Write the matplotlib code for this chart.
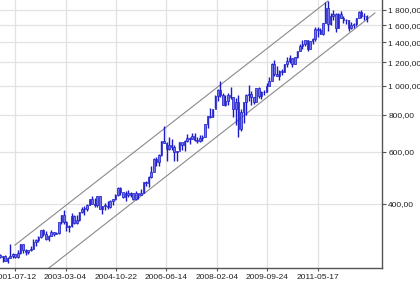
import pandas as pd
import matplotlib
matplotlib.use('Agg')
import matplotlib.pyplot as plt
import matplotlib.dates as mdates
from matplotlib.ticker import FixedLocator, FuncFormatter, NullLocator

plt.rcParams['font.family'] = ['Liberation Sans', 'DejaVu Sans']

# Monthly bars, Jan 2001 .. Dec 2012
first_open = 270
high = [272, 268, 270, 265, 293, 274, 272, 279, 294, 293, 282, 280,
        288, 304, 304, 311, 327, 330, 325, 315, 326, 323, 323, 349,
        368, 382, 352, 341, 372, 366, 368, 376, 390, 393, 399, 417,
        427, 419, 427, 427, 395, 403, 408, 412, 417, 431, 455, 456,
        431, 441, 445, 438, 437, 441, 433, 448, 475, 480, 497, 538,
        570, 575, 588, 654, 730, 646, 670, 664, 630, 605, 648, 640,
        655, 690, 675, 693, 692, 672, 683, 683, 745, 790, 845, 838,
        930, 975, 1035, 948, 930, 944, 988, 915, 910, 933, 833, 881,
        935, 1007, 962, 916, 982, 989, 960, 965, 1025, 1070, 1195, 1226,
        1162, 1127, 1139, 1180, 1249, 1265, 1245, 1250, 1310, 1387, 1424, 1431,
        1426, 1413, 1448, 1575, 1577, 1560, 1632, 1912, 1925, 1760, 1803, 1763,
        1764, 1791, 1718, 1680, 1671, 1640, 1628, 1693, 1790, 1796, 1755, 1726]
low = [263, 255, 257, 254, 263, 264, 263, 264, 271, 274, 270, 272,
       277, 282, 288, 299, 307, 312, 302, 301, 311, 311, 316, 318,
       343, 343, 325, 321, 335, 343, 342, 351, 374, 367, 380, 397,
       399, 392, 392, 384, 371, 383, 386, 387, 398, 412, 427, 430,
       420, 411, 424, 423, 414, 414, 417, 430, 434, 460, 456, 488,
       516, 538, 538, 582, 640, 560, 610, 610, 560, 560, 615, 606,
       605, 648, 637, 660, 651, 642, 646, 652, 670, 720, 780, 785,
       840, 890, 915, 861, 853, 860, 905, 786, 740, 670, 705, 750,
       800, 890, 865, 866, 880, 910, 904, 929, 950, 995, 1035, 1075,
       1075, 1045, 1088, 1110, 1158, 1190, 1155, 1180, 1242, 1314, 1328, 1360,
       1308, 1326, 1381, 1418, 1462, 1495, 1480, 1624, 1535, 1600, 1670, 1523,
       1563, 1691, 1627, 1612, 1527, 1548, 1564, 1590, 1687, 1694, 1672, 1635]
close = [265, 267, 258, 264, 267, 271, 265, 273, 293, 279, 275, 279,
         282, 297, 302, 309, 326, 318, 304, 313, 323, 317, 319, 347,
         367, 347, 334, 337, 364, 346, 354, 375, 385, 386, 397, 416,
         400, 396, 426, 386, 394, 394, 391, 408, 416, 429, 453, 438,
         422, 436, 428, 436, 417, 435, 430, 434, 473, 470, 495, 513,
         568, 556, 583, 654, 643, 613, 633, 624, 599, 604, 646, 632,
         650, 669, 663, 678, 659, 650, 665, 672, 743, 790, 783, 836,
         923, 971, 933, 865, 887, 928, 914, 833, 880, 718, 814, 882,
         928, 942, 917, 883, 980, 927, 954, 955, 1001, 1040, 1182, 1096,
         1081, 1118, 1113, 1180, 1214, 1244, 1181, 1247, 1307, 1357, 1386, 1421,
         1333, 1411, 1439, 1556, 1536, 1500, 1628, 1826, 1620, 1722, 1746, 1566,
         1740, 1697, 1669, 1664, 1561, 1598, 1614, 1687, 1774, 1719, 1713, 1675]

# trend channel end points (date, price)
upper_dates = ['2001-07-12', '2011-09-13']
upper_prices = [291, 1930]
lower_dates = ['2002-08-19', '2013-03-24']
lower_prices = [243.6, 1758]

tick_dates = ['2001-07-12', '2003-03-04', '2004-10-22', '2006-06-14',
              '2008-02-04', '2009-09-24', '2011-05-17']
y_ticks = [400, 600, 800, 1000, 1200, 1400, 1600, 1800]

dates = pd.date_range('2001-01-01', periods=len(close), freq='MS') + pd.Timedelta(days=14)
x = mdates.date2num(dates)
opens = [first_open] + close[:-1]

fig = plt.figure(figsize=(4.2, 2.83), dpi=100)
ax = fig.add_axes([0, 15 / 283, 382 / 420, 268 / 283])

ax.set_yscale('log')
ax.set_ylim(243.6, 1945)
ax.set_xlim(mdates.date2num(pd.Timestamp('2001-01-15')),
            mdates.date2num(pd.Timestamp('2013-06-16')))

# grid
ax.grid(True, color='#e2e2e2', lw=0.9)
ax.set_axisbelow(True)

# channel
ax.plot(mdates.date2num(pd.to_datetime(upper_dates)), upper_prices, color='#8a8a8a', lw=0.8)
ax.plot(mdates.date2num(pd.to_datetime(lower_dates)), lower_prices, color='#8a8a8a', lw=0.8)

# candles
ax.vlines(x, low, high, color='#1a1ac8', lw=1.0, zorder=3)
bottoms = [min(o, c) for o, c in zip(opens, close)]
heights = [max(abs(c - o), 1.5) for o, c in zip(opens, close)]
ax.bar(x, heights, bottom=bottoms, width=19, color='#7474e8',
       edgecolor='#1a1ac8', lw=0.5, zorder=4)

# axes styling
for side in ['left', 'top']:
    ax.spines[side].set_visible(False)
for side in ['right', 'bottom']:
    ax.spines[side].set_color('#555555')
    ax.spines[side].set_linewidth(1.0)

ax.yaxis.tick_right()
ax.yaxis.set_major_locator(FixedLocator(y_ticks))
ax.yaxis.set_minor_locator(NullLocator())
ax.yaxis.set_major_formatter(FuncFormatter(
    lambda v, p: f'{v:,.2f}'.replace(',', ' ').replace('.', ',')))
ax.tick_params(axis='y', length=3, width=0.8, color='#555555', pad=1.5,
               labelsize=6, labelcolor='#222222')

ax.xaxis.set_major_locator(FixedLocator(mdates.date2num(pd.to_datetime(tick_dates))))
ax.xaxis.set_minor_locator(NullLocator())
ax.xaxis.set_major_formatter(mdates.DateFormatter('%Y-%m-%d'))
ax.tick_params(axis='x', length=2, width=0.8, color='#555555', pad=2,
               labelsize=6, labelcolor='#222222')

fig.savefig('out.png', dpi=100)
